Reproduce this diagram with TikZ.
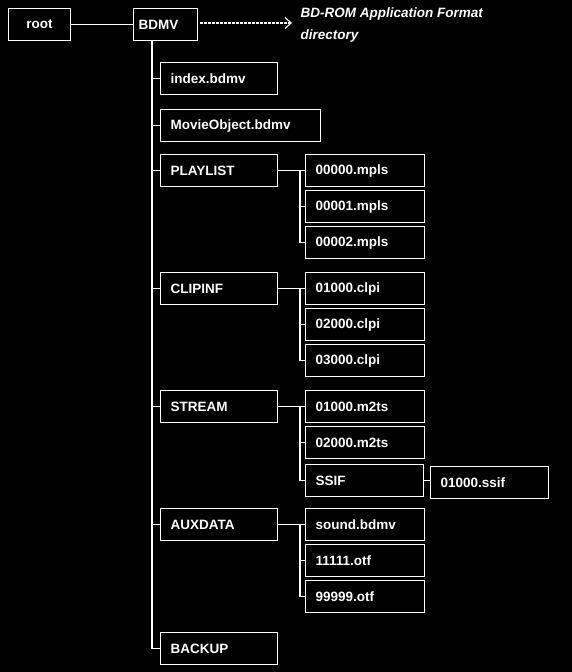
\documentclass[tikz,border=0pt]{standalone}
\usepackage{fontspec}
\setmainfont{Liberation Sans}
\usetikzlibrary{arrows.meta}

\tikzset{
  dirbox/.style={draw=white, line width=1.2pt, anchor=north west, minimum height=32pt,
    inner xsep=10pt, text width=#1, align=left},
  dirbox/.default=97pt,
  filebox/.style={dirbox=99pt},
}

\begin{document}
\begin{tikzpicture}[x=1pt, y=-1pt, >=stealth, line width=1.2pt, white,
  every node/.style={text=white, font=\fontsize{13.5}{16}\selectfont\bfseries}]
  \fill[black] (0,0) rectangle (572,672);
  \useasboundingbox (0,0) rectangle (572,672);

  % top row
  \node[draw=white, anchor=north west, minimum width=62pt, minimum height=32pt] (root) at (8,8) {root};
  \node[dirbox=54pt, inner xsep=5pt] (bdmv) at (133,8) {BDMV};
  \draw (root.east) -- (bdmv.west);

  \coordinate (a0) at (200,23);
  \node[anchor=west, inner xsep=8pt, align=left,
    font=\fontsize{13.5}{22}\selectfont\bfseries\itshape] (note) at (292,25) {BD-ROM Application Format\\directory};
  \draw[dash pattern=on 3pt off 1pt, -{Straight Barb[length=6pt, width=11pt]}] (a0) -- (a0 -| note.west);

  % BDMV entries
  \node[dirbox] (index) at (160,62) {index.bdmv};
  \node[dirbox=140pt] (movie) at (160,109) {MovieObject.bdmv};
  \node[dirbox] (playlist) at (160,154) {PLAYLIST};
  \node[dirbox] (clipinf) at (160,272) {CLIPINF};
  \node[dirbox] (stream) at (160,390) {STREAM};
  \node[dirbox] (auxdata) at (160,508) {AUXDATA};
  \node[dirbox] (backup) at (160,632) {BACKUP};

  % files
  \node[filebox] (pl0) at (305,154) {00000.mpls};
  \node[filebox] (pl1) at (305,190) {00001.mpls};
  \node[filebox] (pl2) at (305,226) {00002.mpls};
  \node[filebox] (ci0) at (305,272) {01000.clpi};
  \node[filebox] (ci1) at (305,308) {02000.clpi};
  \node[filebox] (ci2) at (305,344) {03000.clpi};
  \node[filebox] (st0) at (305,390) {01000.m2ts};
  \node[filebox] (st1) at (305,426) {02000.m2ts};
  \node[dirbox=98pt] (ssif) at (305,464) {SSIF};
  \node[dirbox=98pt] (ssif0) at (430,466) {01000.ssif};
  \node[filebox] (ax0) at (305,508) {sound.bdmv};
  \node[filebox] (ax1) at (305,544) {11111.otf};
  \node[filebox] (ax2) at (305,580) {99999.otf};

  % tree lines
  \coordinate (trunk) at ([xshift=19pt]bdmv.south west);
  \draw (trunk) -- (trunk |- backup.west);
  \foreach \n in {index,movie,playlist,clipinf,stream,auxdata,backup}
    \draw (trunk |- \n.west) -- (\n.west);

  \foreach \p/\a/\b in {playlist/pl0/pl2, clipinf/ci0/ci2, stream/st0/ssif, auxdata/ax0/ax2} {
    \draw (\p.east) -- (\a.west);
    \draw ([xshift=-5pt]\a.west) -- ([xshift=-5pt]\b.west);
  }
  \foreach \c in {pl1,pl2,ci1,ci2,st1,ssif,ax1,ax2}
    \draw ([xshift=-5pt]\c.west) -- (\c.west);
  \draw (ssif.east) -- (ssif.east -| ssif0.west);
\end{tikzpicture}
\end{document}
